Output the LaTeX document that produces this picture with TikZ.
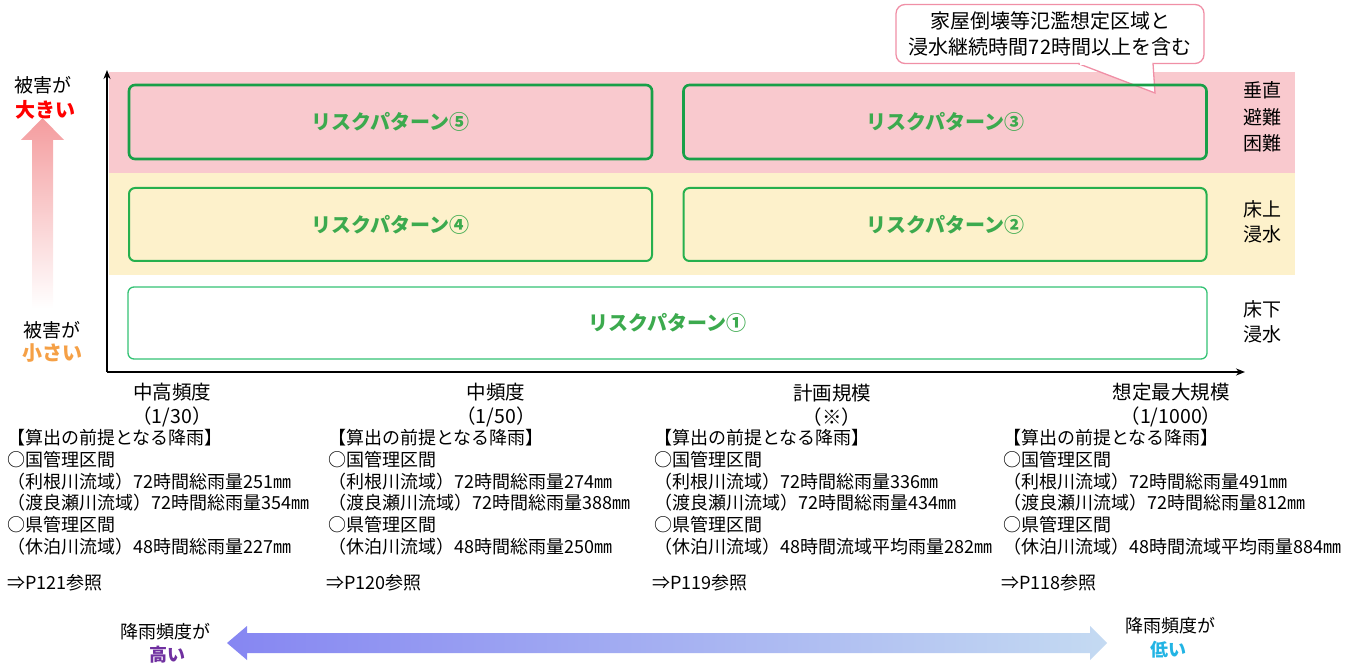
\documentclass[tikz,border=0pt]{standalone}
\usepackage{fontspec}
\setmainfont{Noto Sans CJK JP}
\usetikzlibrary{positioning, arrows.meta}

\definecolor{bandpink}{HTML}{F9C9CE}
\definecolor{bandyellow}{HTML}{FDF1CB}
\definecolor{greendark}{HTML}{18A048}
\definecolor{greenmid}{HTML}{26B04E}
\definecolor{greenlight}{HTML}{34C274}
\definecolor{risktext}{HTML}{3CAA4E}
\definecolor{notepink}{HTML}{F08FA6}
\definecolor{arrowpink}{HTML}{F49C9E}
\definecolor{arrowyellow}{HTML}{FAEBB0}
\definecolor{arrowviolet}{HTML}{8686F2}
\definecolor{arrowblue}{HTML}{C4DAF2}
\definecolor{dmgorange}{HTML}{F5A046}
\definecolor{freqpurple}{HTML}{7030A0}
\definecolor{freqcyan}{HTML}{22B4E4}

\begin{document}
\begin{tikzpicture}[x=1pt, y=-1pt,
    riskbox/.style={draw=greendark, rounded corners=6pt, line width=2.6pt, inner sep=0pt,
        font=\fontsize{20}{22}\selectfont\bfseries, text=risktext},
    sidelabel/.style={align=center, inner sep=0pt, font=\fontsize{19}{24.5}\selectfont},
    dmglabel/.style={inner sep=0pt, font=\fontsize{19}{22}\selectfont},
    colhead/.style={align=center, inner sep=0pt, font=\fontsize{19.5}{24}\selectfont},
    rainlist/.style={align=left, anchor=north west, inner sep=0pt, font=\fontsize{18}{21.8}\selectfont},
    pageref/.style={anchor=west, inner sep=0pt, font=\fontsize{18}{20}\selectfont},
    freqlabel/.style={inner sep=0pt, font=\fontsize{18}{20}\selectfont}
]
\useasboundingbox (0,0) rectangle (1354,668);

% damage bands
\fill[bandpink] (109,72) rectangle (1295,173);
\fill[bandyellow] (109,173) rectangle (1295,275);

% note
\node[draw=notepink, line width=1.3pt, fill=white, rounded corners=9pt, minimum width=308pt, minimum height=59pt,
    align=center, inner sep=0pt, font=\fontsize{20}{26}\selectfont] (note) at (1050,34)
    {家屋倒壊等氾濫想定区域と\\浸水継続時間72時間以上を含む};
\coordinate (notetip) at (1155,93);
\draw[notepink, line width=1.3pt, fill=white] (1078,63.5) -- (notetip) -- (1153,63.5);
\fill[white] (1080,60) rectangle (1151.5,65);

% risk patterns
\node[riskbox, minimum width=523pt, minimum height=74pt] (p5) at (390.5,122) {リスクパターン⑤};
\node[riskbox, minimum width=523pt, minimum height=74pt] (p3) at (945,122) {リスクパターン③};
\node[riskbox, draw=greenmid, line width=2pt, minimum width=523pt, minimum height=73pt] (p4) at (390.5,224.5) {リスクパターン④};
\node[riskbox, draw=greenmid, line width=2pt, minimum width=523pt, minimum height=73pt] (p2) at (945,224.5) {リスクパターン②};
\node[riskbox, draw=greenlight, line width=1.3pt, fill=white, minimum width=1079pt, minimum height=72pt] (p1) at (667.5,323) {リスクパターン①};

\node[sidelabel, font=\fontsize{19}{26.5}\selectfont] (vertical) at (1262,117) {垂直\\避難\\困難};
\node[sidelabel] (above) at (1262,222) {床上\\浸水};
\node[sidelabel] (below) at (1262,322) {床下\\浸水};

% axes
\coordinate (origin) at (107,372);
\coordinate (ytop) at (107,70);
\coordinate (xend) at (1245,372);
\draw[line width=2pt, -{Stealth[length=9pt, width=7pt]}] (origin) -- (ytop);
\draw[line width=2pt, -{Stealth[length=9pt, width=7pt]}] (origin) -- (xend);

% damage arrow
\shade[top color=arrowpink, middle color=arrowyellow, bottom color=white]
    (32,308) -- (32,140) -- (21,140) -- (42.5,118) -- (64,140) -- (53,140) -- (53,308) -- cycle;
\node[dmglabel] (bigtop) at (43,85) {被害が};
\node[dmglabel, text=red, font=\fontsize{20}{22}\selectfont\bfseries] (big) at (45,110) {大きい};
\node[dmglabel] (smalltop) at (52,330) {被害が};
\node[dmglabel, text=dmgorange, font=\fontsize{20}{22}\selectfont\bfseries] (small) at (52,353) {小さい};

% rainfall scales
\node[colhead] (h1) at (172,405) {中高頻度\\（1/30）};
\node[colhead] (h2) at (496,405) {中頻度\\（1/50）};
\node[colhead] (h3) at (832,405) {計画規模\\（※）};
\node[colhead] (h4) at (1171,405) {想定最大規模\\（1/1000）};

\node[rainlist] (r1) at (7,429) {【算出の前提となる降雨】\\○国管理区間\\（利根川流域）72時間総雨量251㎜\\（渡良瀬川流域）72時間総雨量354㎜\\○県管理区間\\（休泊川流域）48時間総雨量227㎜};
\node[rainlist] (r2) at (328,429) {【算出の前提となる降雨】\\○国管理区間\\（利根川流域）72時間総雨量274㎜\\（渡良瀬川流域）72時間総雨量388㎜\\○県管理区間\\（休泊川流域）48時間総雨量250㎜};
\node[rainlist] (r3) at (654,429) {【算出の前提となる降雨】\\○国管理区間\\（利根川流域）72時間総雨量336㎜\\（渡良瀬川流域）72時間総雨量434㎜\\○県管理区間\\（休泊川流域）48時間流域平均雨量282㎜};
\node[rainlist] (r4) at (1003,429) {【算出の前提となる降雨】\\○国管理区間\\（利根川流域）72時間総雨量491㎜\\（渡良瀬川流域）72時間総雨量812㎜\\○県管理区間\\（休泊川流域）48時間流域平均雨量884㎜};

\node[pageref] (ref1) at (7,583) {⇒P121参照};
\node[pageref] (ref2) at (326,583) {⇒P120参照};
\node[pageref] (ref3) at (652,583) {⇒P119参照};
\node[pageref] (ref4) at (1001,583) {⇒P118参照};

% frequency arrow
\shade[left color=arrowviolet, right color=arrowblue]
    (227,643) -- (247,626) -- (247,633) -- (1090,633) -- (1090,626) -- (1107,643)
    -- (1090,660) -- (1090,653) -- (247,653) -- (247,660) -- cycle;
\node[freqlabel] (hightop) at (165,632) {降雨頻度が};
\node[freqlabel, text=freqpurple, font=\fontsize{18}{20}\selectfont\bfseries] (high) at (167,655) {高い};
\node[freqlabel] (lowtop) at (1170,626) {降雨頻度が};
\node[freqlabel, text=freqcyan, font=\fontsize{18}{20}\selectfont\bfseries] (low) at (1168,650) {低い};
\end{tikzpicture}
\end{document}
